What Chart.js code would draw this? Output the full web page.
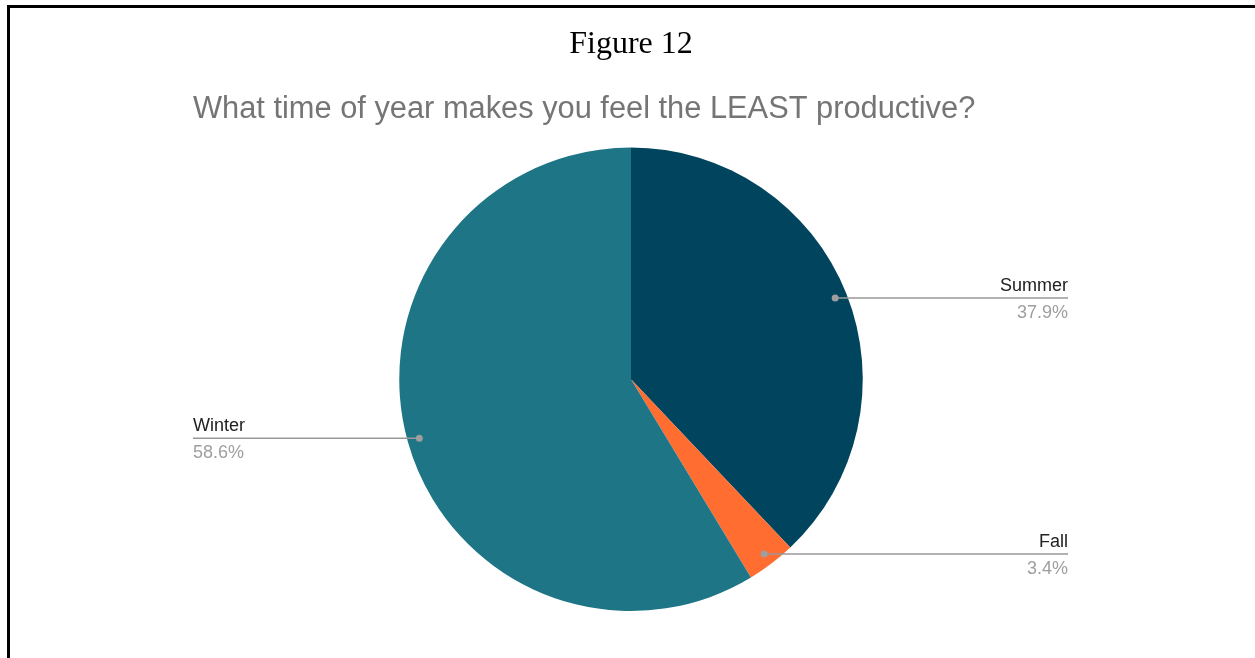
<!DOCTYPE html>
<html lang="en">
<head>
<meta charset="UTF-8">
<title>Figure 12</title>
<script src="https://cdn.jsdelivr.net/npm/chart.js@4.4.4/dist/chart.umd.min.js"></script>
<style>
    body { margin: 0; background: #fff; }
    #wrap { position: relative; width: 1255px; height: 658px; overflow: hidden; background: #fff; }
    #frame {
        position: absolute; left: 7px; top: 5px; width: 1300px; height: 700px;
        border-left: 3px solid #000; border-top: 3px solid #000;
    }
    #pie { position: absolute; left: 0; top: 0; }
</style>
</head>
<body>
<div id="wrap">
    <div id="frame"></div>
    <canvas id="pie" width="1255" height="658"></canvas>
</div>
<script>
    const figureLabel = 'Figure 12';
    const chartTitle = 'What time of year makes you feel the LEAST productive?';
    const seasons = ['Summer', 'Fall', 'Winter'];
    const seasonShares = [37.9, 3.4, 58.6];
    const seasonColors = ['#01445e', '#ff6d31', '#1e7585'];

    // headings plus the leader-line labels beside each slice
    const calloutPlugin = {
        id: 'callouts',
        afterDraw(chart) {
            const ctx = chart.ctx;
            ctx.save();

            ctx.fillStyle = '#000';
            ctx.font = '32px "Liberation Serif", "Times New Roman", serif';
            ctx.textAlign = 'center';
            ctx.textBaseline = 'alphabetic';
            ctx.fillText(figureLabel, 631, 53);

            ctx.fillStyle = '#757575';
            ctx.font = '30.8px "Liberation Sans", Arial, sans-serif';
            ctx.textAlign = 'left';
            ctx.fillText(chartTitle, 193, 118);

            const arcs = chart.getDatasetMeta(0).data;
            arcs.forEach((arc, i) => {
                const p = arc.getProps(['x', 'y', 'startAngle', 'endAngle', 'outerRadius'], true);
                const mid = (p.startAngle + p.endAngle) / 2;
                const r = p.outerRadius - 12;
                const dx = p.x + Math.cos(mid) * r;
                const dy = p.y + Math.sin(mid) * r;
                const right = Math.cos(mid) >= 0;
                const endX = right ? 1068 : 193;

                ctx.strokeStyle = '#999999';
                ctx.lineWidth = 1.6;
                ctx.beginPath();
                ctx.moveTo(dx, dy);
                ctx.lineTo(endX, dy);
                ctx.stroke();

                ctx.fillStyle = '#9e9e9e';
                ctx.beginPath();
                ctx.arc(dx, dy, 3.5, 0, Math.PI * 2);
                ctx.fill();

                ctx.textAlign = right ? 'right' : 'left';
                ctx.font = '18px "Liberation Sans", Arial, sans-serif';
                ctx.fillStyle = '#212121';
                ctx.fillText(seasons[i], endX, dy - 7);
                ctx.fillStyle = '#9e9e9e';
                ctx.fillText(seasonShares[i].toFixed(1) + '%', endX, dy + 20);
            });
            ctx.restore();
        }
    };

    new Chart(document.getElementById('pie'), {
        type: 'pie',
        data: {
            labels: seasons,
            datasets: [{
                data: seasonShares,
                backgroundColor: seasonColors,
                borderWidth: 0
            }]
        },
        options: {
            responsive: false,
            animation: false,
            layout: { padding: { top: 147.5, bottom: 47, left: 7, right: 0 } },
            plugins: {
                legend: { display: false },
                tooltip: { enabled: false }
            }
        },
        plugins: [calloutPlugin]
    });
</script>
</body>
</html>
